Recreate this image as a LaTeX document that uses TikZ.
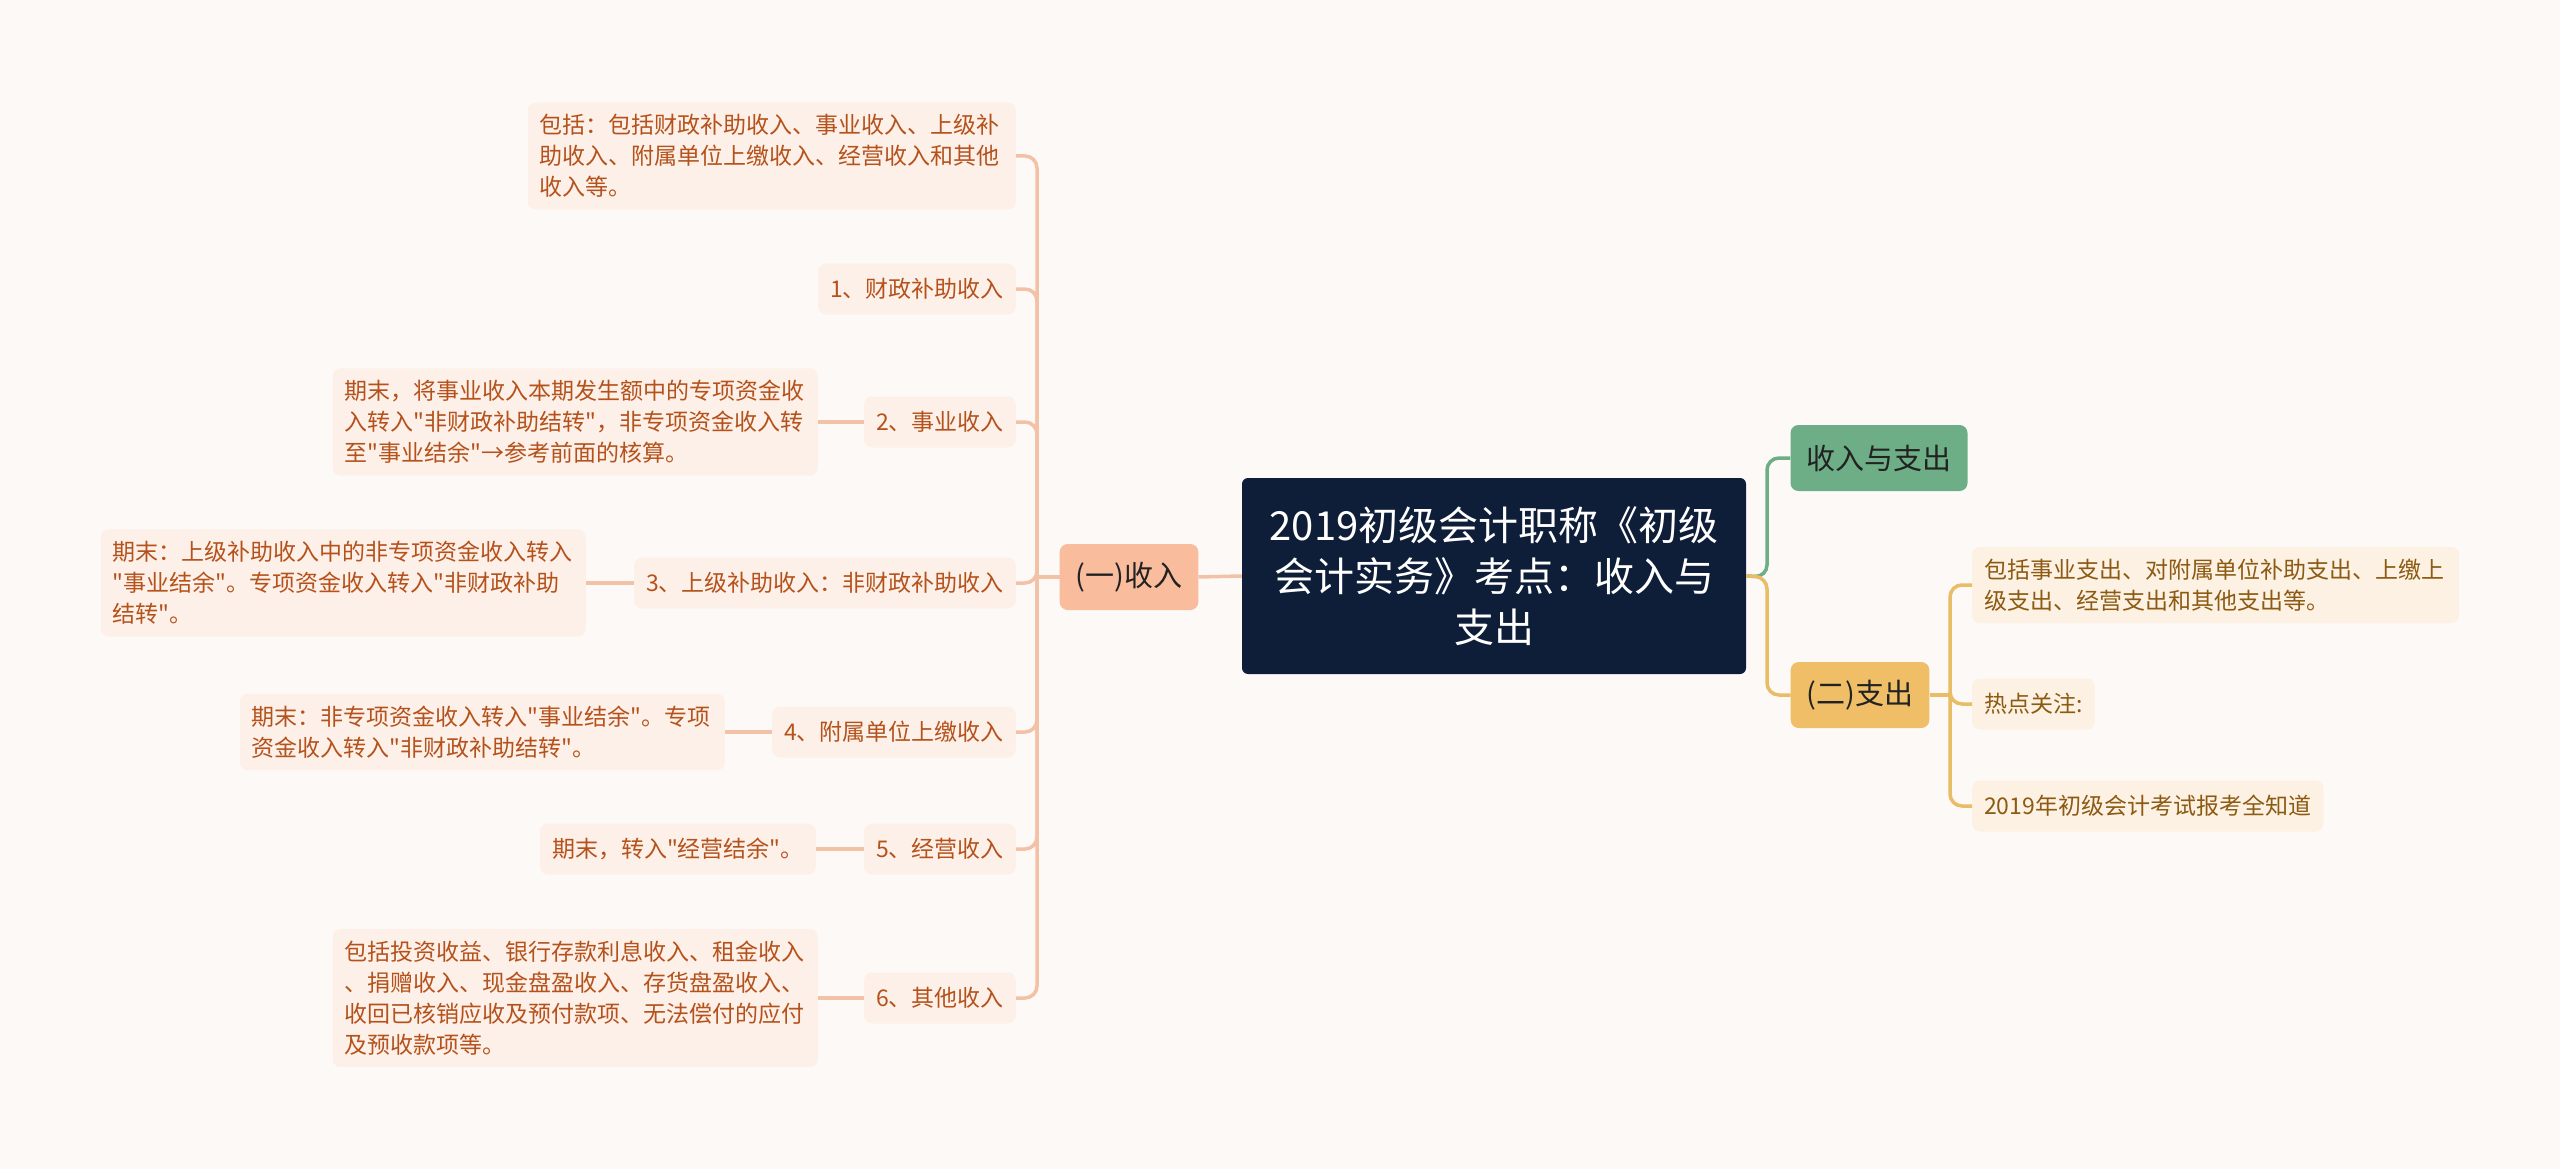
\documentclass[tikz,border=0pt]{standalone}
\usepackage{fontspec}
\setmainfont{Noto Sans CJK SC}[Ligatures=TeXOff]
\definecolor{bg}{HTML}{FDF9F7}
\definecolor{centralfill}{HTML}{0E1D38}
\definecolor{incfill}{HTML}{F9BC9D}
\definecolor{leafLfill}{HTML}{FDF0E8}
\definecolor{leafLtext}{HTML}{B5521C}
\definecolor{lconn}{HTML}{F3C2A6}
\definecolor{greenfill}{HTML}{6DAE87}
\definecolor{orangefill}{HTML}{EFBE67}
\definecolor{leafRfill}{HTML}{FCF1E2}
\definecolor{leafRtext}{HTML}{8C5A12}
\definecolor{gconn}{HTML}{6DAE87}
\definecolor{oconn}{HTML}{E9BC66}
\definecolor{darktext}{HTML}{222222}
\begin{document}
\begin{tikzpicture}[x=1pt,y=-1pt,
  central/.style={fill=centralfill,text=white,rounded corners=6pt,minimum width=504pt,minimum height=196pt,align=center,font=\fontsize{40}{51}\selectfont,inner sep=0pt},
  topic/.style={rounded corners=8pt,text=darktext,minimum height=66pt,inner xsep=16pt,inner ysep=0pt,font=\fontsize{29}{36}\selectfont},
  leafL/.style={fill=leafLfill,text=leafLtext,rounded corners=8pt,minimum height=51pt,inner xsep=12pt,inner ysep=12pt,align=left,font=\fontsize{23}{31}\selectfont},
  leafR/.style={fill=leafRfill,text=leafRtext,rounded corners=8pt,minimum height=51pt,inner xsep=12pt,inner ysep=12pt,align=left,font=\fontsize{23}{31}\selectfont},
  lline/.style={draw=lconn,line width=3.5pt,rounded corners=12pt},
  gline/.style={draw=gconn,line width=3.5pt,rounded corners=12pt},
  oline/.style={draw=oconn,line width=3.5pt,rounded corners=12pt}
]
\fill[bg] (0,0) rectangle (2560,1169);
\useasboundingbox (0,0) rectangle (2560,1169);

% central
\node[central] (C) at (1494,576) {2019初级会计职称《初级\\会计实务》考点：收入与\\支出};

% level 1
\node[topic,fill=incfill] (Inc) at (1129,577) {(一)收入};
\node[topic,fill=greenfill] (G) at (1879,458) {收入与支出};
\node[topic,fill=orangefill] (O) at (1860,695) {(二)支出};

% left level 2
\node[leafL,anchor=east,text width=464pt] (L0) at (1016,156) {包括：包括财政补助收入、事业收入、上级补\\助收入、附属单位上缴收入、经营收入和其他\\收入等。};
\node[leafL,anchor=east] (L1) at (1016,289) {1、财政补助收入};
\node[leafL,anchor=east] (L2) at (1016,422) {2、事业收入};
\node[leafL,anchor=east] (L3) at (1016,583) {3、上级补助收入：非财政补助收入};
\node[leafL,anchor=east] (L4) at (1016,732) {4、附属单位上缴收入};
\node[leafL,anchor=east] (L5) at (1016,849) {5、经营收入};
\node[leafL,anchor=east] (L6) at (1016,998) {6、其他收入};

% left level 3
\node[leafL,anchor=east,text width=461pt] (M2) at (818,422) {期末，将事业收入本期发生额中的专项资金收\\入转入"非财政补助结转"，非专项资金收入转\\至"事业结余"→参考前面的核算。};
\node[leafL,anchor=east,text width=461pt] (M3) at (586,583) {期末：上级补助收入中的非专项资金收入转入\\"事业结余"。专项资金收入转入"非财政补助\\结转"。};
\node[leafL,anchor=east,text width=461pt] (M4) at (725,732) {期末：非专项资金收入转入"事业结余"。专项\\资金收入转入"非财政补助结转"。};
\node[leafL,anchor=east] (M5) at (816,849) {期末，转入"经营结余"。};
\node[leafL,anchor=east,text width=461pt] (M6) at (818,998) {包括投资收益、银行存款利息收入、租金收入\\、捐赠收入、现金盘盈收入、存货盘盈收入、\\收回已核销应收及预付款项、无法偿付的应付\\及预收款项等。};

% right leaves
\node[leafR,anchor=west,text width=463pt] (R1) at (1972,585) {包括事业支出、对附属单位补助支出、上缴上\\级支出、经营支出和其他支出等。};
\node[leafR,anchor=west] (R2) at (1972,704) {热点关注:};
\node[leafR,anchor=west] (R3) at (1972,806) {2019年初级会计考试报考全知道};

% connectors
\coordinate (lt) at (1037,577);
\coordinate (rt) at (1767,577);
\coordinate (ot) at (1950,695);

\draw[lline] (C.west) -- (Inc.east);
\draw[lline] (Inc.west) -- (lt);
\foreach \n in {L0,L1,L2,L3,L4,L5,L6} { \draw[lline] (lt) |- (\n.east); }
\draw[lline] (L2.west) -- (M2.east);
\draw[lline] (L3.west) -- (M3.east);
\draw[lline] (L4.west) -- (M4.east);
\draw[lline] (L5.west) -- (M5.east);
\draw[lline] (L6.west) -- (M6.east);

\draw[gline] (C.east) -- (rt) |- (G.west);
\draw[oline] (C.east) -- (rt) |- (O.west);
\draw[oline] (O.east) -- (ot);
\foreach \n in {R1,R2,R3} { \draw[oline] (ot) |- (\n.west); }
\end{tikzpicture}
\end{document}
